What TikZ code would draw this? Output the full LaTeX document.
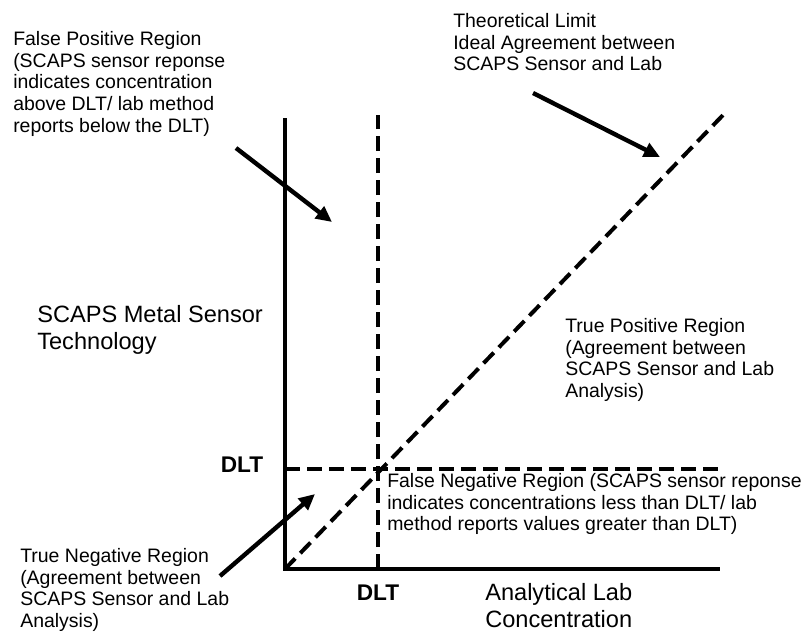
\documentclass[tikz,border=0pt]{standalone}
\usepackage{fontspec}
\setmainfont{Liberation Sans}
\usetikzlibrary{arrows.meta}

\begin{document}
\begin{tikzpicture}[
    x=0.75pt, y=-0.75pt,
    >={Triangle[length=12pt,width=11pt]},
    axis/.style={line width=2.5pt},
    guide/.style={line width=3pt, dash pattern=on 11pt off 5.5pt},
    pointer/.style={->, line width=3.3pt},
    note/.style={anchor=north west, inner sep=0pt, align=left,
                 font=\fontsize{14.6}{16.3}\selectfont},
    big/.style={note, font=\fontsize{17.7}{20}\selectfont},
    level/.style={inner sep=0pt, font=\fontsize{17}{18}\selectfont\bfseries}
]
  \useasboundingbox (0,0) rectangle (810,633);

  % axes
  \coordinate (o) at (285,569);
  \coordinate (ytop) at (285,118);
  \coordinate (xend) at (720,569);
  \draw[axis] (ytop) -- (o) -- (xend);

  % detection limit lines and ideal line
  \coordinate (dlx) at (378,569);
  \coordinate (dlxtop) at (378,115);
  \coordinate (dly) at (285,469);
  \coordinate (dlyend) at (722,469);
  \coordinate (ideal) at (725,113);
  \draw[guide] (dlx) -- (dlxtop);
  \draw[guide] (dly) -- (dlyend);
  \draw[guide] (o) -- (ideal);

  \node[level] (dltx) at (378,593) {DLT};
  \node[level] (dlty) at (242,465) {DLT};

  % labels
  \node[note] (fp) at (13,31) {False Positive Region\\(SCAPS sensor reponse\\indicates concentration\\above DLT/ lab method\\reports below the DLT)};
  \node[note] (th) at (453,13) {Theoretical Limit\\Ideal Agreement between\\SCAPS Sensor and Lab};
  \node[big] (ylab) at (37,305) {SCAPS Metal Sensor\\Technology};
  \node[note] (tp) at (565,318) {True Positive Region\\(Agreement between\\SCAPS Sensor and Lab\\Analysis)};
  \node[note] (fn) at (387,473) {False Negative Region (SCAPS sensor reponse\\indicates concentrations less than DLT/ lab\\method reports values greater than DLT)};
  \node[note] (tn) at (20,548) {True Negative Region\\(Agreement between\\SCAPS Sensor and Lab\\Analysis)};
  \node[big] (xlab) at (485,583) {Analytical Lab\\Concentration};

  % pointers
  \coordinate (fptail) at (236,148);
  \coordinate (fptip) at (332,222);
  \coordinate (thtail) at (533,93);
  \coordinate (thtip) at (660,157);
  \coordinate (tntail) at (220,576);
  \coordinate (tntip) at (315,494);
  \draw[pointer] (fptail) -- (fptip);
  \draw[pointer] (thtail) -- (thtip);
  \draw[pointer] (tntail) -- (tntip);
\end{tikzpicture}
\end{document}
